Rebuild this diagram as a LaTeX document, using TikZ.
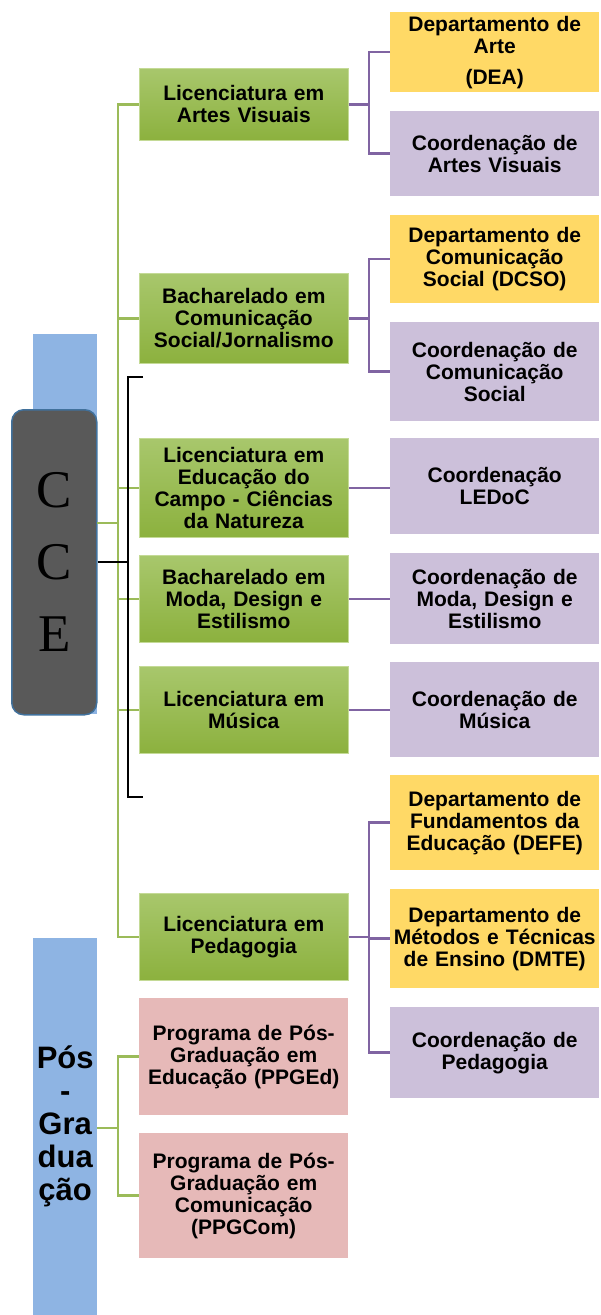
\documentclass[tikz,border=0pt]{standalone}
\usepackage{fontspec}
\setmainfont{Liberation Sans}
\newfontfamily\cceserif{Liberation Serif}
\usetikzlibrary{calc}
\definecolor{yellowc}{RGB}{255,217,102}
\definecolor{purplec}{RGB}{204,192,218}
\definecolor{pinkc}{RGB}{230,185,184}
\definecolor{barblue}{RGB}{142,180,227}
\definecolor{greentop}{RGB}{168,199,108}
\definecolor{greenbot}{RGB}{140,177,62}
\definecolor{greenedge}{RGB}{196,218,150}
\definecolor{glinec}{RGB}{155,187,89}
\definecolor{plinec}{RGB}{128,100,162}
\definecolor{ccefill}{RGB}{89,89,89}
\definecolor{cceedge}{RGB}{65,113,156}
\begin{document}
\begin{tikzpicture}[x=1pt,y=-1pt,
  box/.style={anchor=north west, minimum width=209pt, inner sep=0pt, text width=207pt,
    align=center, font=\bfseries\fontsize{21}{22}\selectfont, text=black},
  greenbox/.style={box, top color=greentop, bottom color=greenbot, draw=greenedge, line width=0.6pt},
  yellowbox/.style={box, fill=yellowc},
  purplebox/.style={box, fill=purplec},
  pinkbox/.style={box, fill=pinkc},
  barbox/.style={anchor=north west, fill=barblue, minimum width=64pt, inner sep=0pt},
  gline/.style={draw=glinec, line width=2.5pt},
  pline/.style={draw=plinec, line width=2.5pt},
  bline/.style={draw=black, line width=2.2pt}]
\useasboundingbox (0,0) rectangle (601,1315);

% blue bars
\node[barbox, minimum height=380pt] (cceBar) at (33,334) {};
\node[barbox, minimum height=377pt, align=center, font=\bfseries\fontsize{31}{33}\selectfont] (pgBar) at (33,938) {Pós\\-\\Gra\\dua\\ção};

% CCE box
\node[anchor=north west, minimum width=85pt, minimum height=305pt, inner sep=0pt,
  fill=ccefill, draw=cceedge, line width=1.5pt, rounded corners=12pt, align=center,
  font=\cceserif\fontsize{53}{72}\selectfont] (cce) at (11,409) {C\\C\\E};

% green course boxes
\node[greenbox, minimum height=72pt] (g1) at (139,68) {Licenciatura em\\Artes Visuais};
\node[greenbox, minimum height=90pt] (g2) at (139,273) {Bacharelado em\\Comunicação\\Social/Jornalismo};
\node[greenbox, minimum height=99pt] (g3) at (139,438) {Licenciatura em\\Educação do\\Campo - Ciências\\da Natureza};
\node[greenbox, minimum height=87pt] (g4) at (139,555) {Bacharelado em\\Moda, Design e\\Estilismo};
\node[greenbox, minimum height=87pt] (g5) at (139,666) {Licenciatura em\\Música};
\node[greenbox, minimum height=87pt] (g6) at (139,893) {Licenciatura em\\Pedagogia};

% pink boxes
\node[pinkbox, minimum height=117pt] (p1) at (139,998) {Programa de Pós-\\Graduação em\\Educação (PPGEd)};
\node[pinkbox, minimum height=125pt] (p2) at (139,1133) {Programa de Pós-\\Graduação em\\Comunicação\\(PPGCom)};

% right column
\node[yellowbox, minimum height=80pt] (y1) at (390,12) {Departamento de\\Arte\\[9pt](DEA)};
\node[purplebox, minimum height=85pt] (c1) at (390,111) {Coordenação de\\Artes Visuais};
\node[yellowbox, minimum height=88pt] (y2) at (390,215) {Departamento de\\Comunicação\\Social (DCSO)};
\node[purplebox, minimum height=99pt] (c2) at (390,322) {Coordenação de\\Comunicação\\Social};
\node[purplebox, minimum height=96pt] (c3) at (390,438) {Coordenação\\LEDoC};
\node[purplebox, minimum height=91pt] (c4) at (390,553) {Coordenação de\\Moda, Design e\\Estilismo};
\node[purplebox, minimum height=95pt] (c5) at (390,662) {Coordenação de\\Música};
\node[yellowbox, minimum height=95pt] (y3) at (390,775) {Departamento de\\Fundamentos da\\Educação (DEFE)};
\node[yellowbox, minimum height=99pt] (y4) at (390,889) {Departamento de\\Métodos e Técnicas\\de Ensino (DMTE)};
\node[purplebox, minimum height=91pt] (c6) at (390,1007) {Coordenação de\\Pedagogia};

% green tree (courses)
\coordinate (trunkJ) at (118,523);
\draw[gline] (g1.west) -- ++(-21,0) |- (g6.west);
\draw[gline] (g2.west) -- ++(-21,0);
\draw[gline] (g3.west) -- ++(-21,0);
\draw[gline] (g4.west) -- ++(-21,0);
\draw[gline] (g5.west) -- ++(-21,0);
\draw[gline] (cceBar.east |- trunkJ) -- (trunkJ);

% green tree (pos-graduacao)
\coordinate (pgJ) at (118,1128);
\draw[gline] (p1.west) -- ++(-21,0) |- (p2.west);
\draw[gline] (pgBar.east |- pgJ) -- (pgJ);

% purple connectors
\draw[pline] (y1.west) -- ++(-21,0) |- (c1.west);
\draw[pline] (g1.east) -- ++(21,0);
\draw[pline] (y2.west) -- ++(-21,0) |- (c2.west);
\draw[pline] (g2.east) -- ++(21,0);
\draw[pline] (g3.east) -- (g3.east -| c3.west);
\draw[pline] (g4.east) -- (g4.east -| c4.west);
\draw[pline] (g5.east) -- (g5.east -| c5.west);
\draw[pline] (y3.west) -- ++(-21,0) |- (c6.west);
\draw[pline] (y4.west) -- ++(-21,0);
\draw[pline] (g6.east) -- ++(21,0);

% black bracket
\coordinate (bTop) at (128,377);
\coordinate (bBot) at (128,797);
\draw[bline] (cce.east) -- (cce.east -| bTop);
\draw[bline] ($(bTop)+(15,0)$) -- (bTop) -- (bBot) -- ++(15,0);
\end{tikzpicture}
\end{document}
